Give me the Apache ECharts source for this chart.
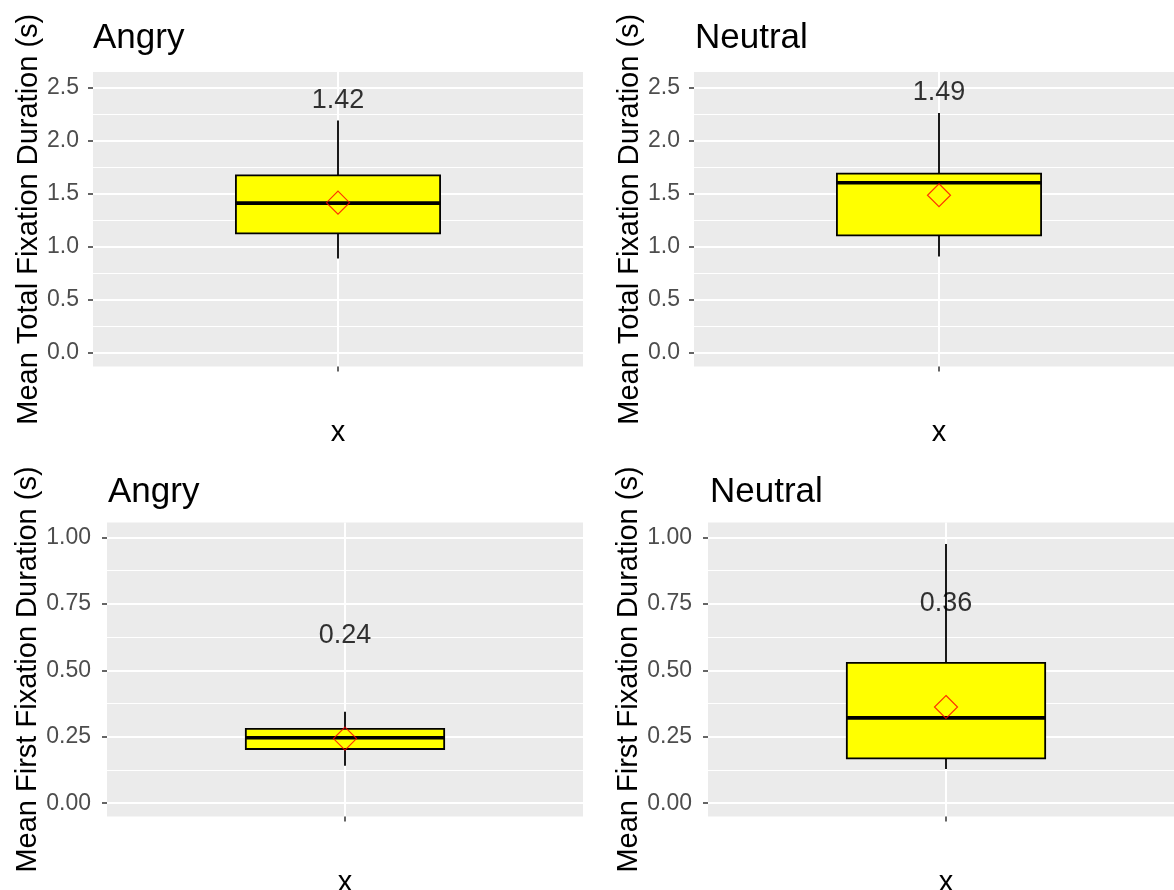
<!DOCTYPE html>
<html><head><meta charset="utf-8">
<script src="https://cdn.jsdelivr.net/npm/echarts@6/dist/echarts.min.js"></script>
<style>html,body{margin:0;padding:0;background:#fff}#c{width:1174px;height:890px}</style>
</head><body><div id="c"></div>
<script>
// ---- data ----
const panelTitles = ['Angry', 'Neutral', 'Angry', 'Neutral'];
const yTitles = ['Mean Total Fixation Duration (s)', 'Mean Total Fixation Duration (s)',
                 'Mean First Fixation Duration (s)', 'Mean First Fixation Duration (s)'];
const xTitle = 'x';
const xPosition = 1;               // single discrete position
const whiskerLow  = [0.89, 0.91, 0.141, 0.129];
const q1          = [1.127, 1.108, 0.204, 0.169];
const median      = [1.412, 1.604, 0.246, 0.321];
const q3          = [1.673, 1.689, 0.280, 0.528];
const whiskerHigh = [2.19, 2.26, 0.344, 0.975];
const means       = [1.416, 1.486, 0.243, 0.362];
const labelY      = [2.40, 2.47, 0.637, 0.76];
const topMajor = [0, 0.5, 1, 1.5, 2, 2.5];
const topMinor = [0.25, 0.75, 1.25, 1.75, 2.25];
const botMajor = [0, 0.25, 0.5, 0.75, 1];
const botMinor = [0.125, 0.375, 0.625, 0.875];

// ---- layout ----
const FONT = "'Liberation Sans', Arial, sans-serif";
const grids = [
  {left: 93,  top: 72,    width: 490, height: 294.5},
  {left: 694, top: 72,    width: 490, height: 294.5},
  {left: 107, top: 522.5, width: 476, height: 294},
  {left: 708, top: 522.5, width: 476, height: 294}
];
const titlePos = [[93, 21], [695, 21], [108, 475], [710, 475]];
const yRange = [[-0.126, 2.646], [-0.126, 2.646], [-0.05, 1.056], [-0.05, 1.056]];
const BOX_WIDTH = 0.5;

const option = {
  animation: false,
  backgroundColor: '#fff',
  title: [], grid: [], xAxis: [], yAxis: [], series: []
};

for (let i = 0; i < 4; i++) {
  const top = i < 2;
  const major = top ? topMajor : botMajor;
  const minor = top ? topMinor : botMinor;
  const dec = top ? 1 : 2;
  option.title.push({
    text: panelTitles[i], left: titlePos[i][0], top: titlePos[i][1], padding: 0,
    textStyle: {fontSize: 35, fontWeight: 'normal', color: '#000', fontFamily: FONT}
  });
  option.grid.push(Object.assign({show: true, backgroundColor: '#EBEBEB', borderWidth: 0, outerBoundsMode: 'none', containLabel: false}, grids[i]));
  option.xAxis.push({
    type: 'value', gridIndex: i, min: 0.4, max: 1.6, position: 'bottom',
    axisLine: {show: false, onZero: false},
    axisTick: {show: true, customValues: [xPosition], length: 5, lineStyle: {color: '#333', width: 1.5}},
    axisLabel: {show: false, customValues: [xPosition]},
    splitLine: {show: true, lineStyle: {color: '#fff', width: 2}},
    name: xTitle, nameLocation: 'middle', nameGap: 52,
    nameTextStyle: {fontSize: 29, color: '#000', fontFamily: FONT}
  });
  // major axis
  option.yAxis.push({
    type: 'value', gridIndex: i, min: yRange[i][0], max: yRange[i][1], position: 'left',
    axisLine: {show: false, onZero: false},
    axisTick: {show: true, customValues: major, length: 5, lineStyle: {color: '#333', width: 1.5}},
    axisLabel: {show: true, customValues: major, margin: top ? 14 : 16,
      formatter: v => Number(v).toFixed(dec), color: '#4D4D4D', fontSize: 23, fontFamily: FONT},
    splitLine: {show: true, lineStyle: {color: '#fff', width: 2}},
    name: yTitles[i], nameLocation: 'middle', nameGap: top ? 50 : 64,
    nameTextStyle: {fontSize: 29, color: '#000', fontFamily: FONT}
  });
  // minor grid axis
  option.yAxis.push({
    type: 'value', gridIndex: i, min: yRange[i][0], max: yRange[i][1], position: 'left',
    axisLine: {show: false, onZero: false},
    axisTick: {show: false, customValues: minor},
    axisLabel: {show: false, customValues: minor},
    splitLine: {show: true, lineStyle: {color: '#fff', width: 1}}
  });
  const yMajorIdx = i * 2;
  option.series.push({
    type: 'scatter', xAxisIndex: i, yAxisIndex: yMajorIdx, z: 1, silent: true,
    data: [[xPosition, labelY[i]]], symbolSize: 1,
    itemStyle: {color: 'rgba(0,0,0,0)'},
    label: {show: true, position: 'inside', offset: [0, 2], formatter: means[i].toFixed(2),
      fontSize: 27, color: '#000', fontFamily: FONT}
  });
  option.series.push({
    type: 'custom', xAxisIndex: i, yAxisIndex: yMajorIdx, z: 2, silent: true,
    data: [[xPosition, whiskerLow[i], q1[i], median[i], q3[i], whiskerHigh[i]]],
    encode: {x: 0, y: [1, 2, 3, 4, 5]},
    renderItem: function (params, api) {
      const x = api.value(0);
      const pLo = api.coord([x, api.value(1)]);
      const pQ1 = api.coord([x, api.value(2)]);
      const pMd = api.coord([x, api.value(3)]);
      const pQ3 = api.coord([x, api.value(4)]);
      const pHi = api.coord([x, api.value(5)]);
      const bw = api.size([BOX_WIDTH, 0])[0];
      const cx = pMd[0];
      return {type: 'group', children: [
        {type: 'line', shape: {x1: cx, y1: pHi[1], x2: cx, y2: pQ3[1]}, style: {stroke: '#000', lineWidth: 1.8}},
        {type: 'line', shape: {x1: cx, y1: pQ1[1], x2: cx, y2: pLo[1]}, style: {stroke: '#000', lineWidth: 1.8}},
        {type: 'rect', shape: {x: cx - bw / 2, y: pQ3[1], width: bw, height: pQ1[1] - pQ3[1]},
          style: {fill: '#FFFF00', stroke: '#000', lineWidth: 1.8}},
        {type: 'line', shape: {x1: cx - bw / 2, y1: pMd[1], x2: cx + bw / 2, y2: pMd[1]},
          style: {stroke: '#000', lineWidth: 3.6}}
      ]};
    }
  });
  option.series.push({
    type: 'scatter', xAxisIndex: i, yAxisIndex: yMajorIdx, z: 3, silent: true,
    data: [[xPosition, means[i]]], symbol: 'diamond', symbolSize: 23,
    itemStyle: {color: 'rgba(0,0,0,0)', borderColor: '#FF0000', borderWidth: 1.2}
  });
}

const chart = echarts.init(document.getElementById('c'), null, {renderer: 'canvas'});
chart.setOption(option);
</script>
</body></html>
